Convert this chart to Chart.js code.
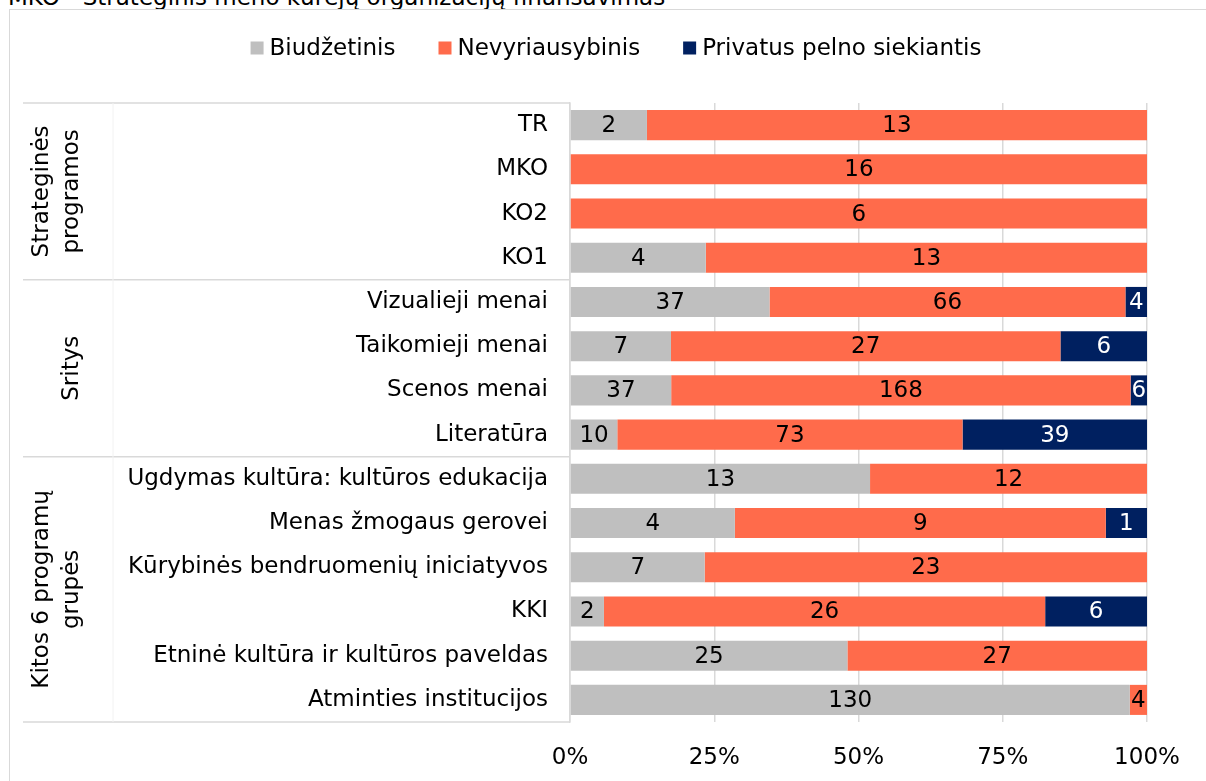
<!DOCTYPE html>
<html>
<head>
<meta charset="utf-8">
<script src="https://cdn.jsdelivr.net/npm/chart.js@4"></script>
<style>
  body { margin: 0; background: #fff; overflow: hidden; }
  #title {
    position: absolute; left: 8px; top: -14px;
    font: 23px "DejaVu Sans", sans-serif; line-height: 23px; color: #000;
    white-space: nowrap;
  }
  #frame {
    position: absolute; left: 9px; top: 9px; width: 1400px; height: 1000px;
    border: 1.5px solid #d9d9d9;
  }
  #chart { position: absolute; left: 0; top: 0; }
</style>
</head>
<body>
<div id="title">MKO - Strateginis meno kūrėjų organizacijų finansavimas</div>
<div id="frame"></div>
<canvas id="chart" width="1206" height="781"></canvas>
<script>
// programos / sritys / grupės
const categories = [
  'TR', 'MKO', 'KO2', 'KO1',
  'Vizualieji menai', 'Taikomieji menai', 'Scenos menai', 'Literatūra',
  'Ugdymas kultūra: kultūros edukacija', 'Menas žmogaus gerovei',
  'Kūrybinės bendruomenių iniciatyvos', 'KKI',
  'Etninė kultūra ir kultūros paveldas', 'Atminties institucijos'
];
const groupNames = [['Strateginės', 'programos'], ['Sritys'], ['Kitos 6 programų', 'grupės']];
const groupSizes = [4, 4, 6];

const seriesNames = ['Biudžetinis', 'Nevyriausybinis', 'Privatus pelno siekiantis'];
const biudzetinis =     [2, 0, 0, 4, 37, 7, 37, 10, 13, 4, 7, 2, 25, 130];
const nevyriausybinis = [13, 16, 6, 13, 66, 27, 168, 73, 12, 9, 23, 26, 27, 4];
const privatus =        [0, 0, 0, 0, 4, 6, 6, 39, 0, 1, 0, 6, 0, 0];
const xTicks = [0, 25, 50, 75, 100];

const colors = ['#bfbfbf', '#ff6b4b', '#002060'];
const labelColors = ['#000', '#000', '#fff'];
const FONT = '"DejaVu Sans", sans-serif';
const FS = 23;

const counts = [biudzetinis, nevyriausybinis, privatus];
const totals = categories.map((c, i) => biudzetinis[i] + nevyriausybinis[i] + privatus[i]);

const datasets = counts.map((arr, k) => ({
  label: seriesNames[k],
  data: arr.map((v, i) => v / totals[i] * 100),
  backgroundColor: colors[k],
  borderWidth: 0,
  barPercentage: 0.68,
  categoryPercentage: 1.0
}));

// numbers inside the bars
const barLabels = {
  id: 'barLabels',
  afterDatasetsDraw(chart) {
    const ctx = chart.ctx;
    ctx.save();
    ctx.font = FS + 'px ' + FONT;
    ctx.textAlign = 'center';
    ctx.textBaseline = 'middle';
    chart.data.datasets.forEach((ds, k) => {
      chart.getDatasetMeta(k).data.forEach((bar, i) => {
        const v = counts[k][i];
        if (!v) return;
        ctx.fillStyle = labelColors[k];
        ctx.fillText(String(v), (bar.x + bar.base) / 2, bar.y + 1);
      });
    });
    ctx.restore();
  }
};

// legend + group table on the left
const decorations = {
  id: 'decorations',
  afterDraw(chart) {
    const ctx = chart.ctx;
    const area = chart.chartArea;
    const y = chart.scales.y;
    ctx.save();

    // legend
    ctx.font = FS + 'px ' + FONT;
    ctx.textBaseline = 'middle';
    const box = 13, gapText = 6, gapItem = 43;
    const widths = seriesNames.map(n => box + gapText + ctx.measureText(n).width);
    const total = widths.reduce((a, b) => a + b, 0) + gapItem * (seriesNames.length - 1);
    let lx = 616 - total / 2;
    const ly = 48;
    seriesNames.forEach((n, k) => {
      ctx.fillStyle = colors[k];
      ctx.fillRect(lx, ly - box / 2, box, box);
      ctx.fillStyle = '#000';
      ctx.textAlign = 'left';
      ctx.fillText(n, lx + box + gapText, ly + 1);
      lx += widths[k] + gapItem;
    });

    // separators
    const step = (y.getPixelForValue(1) - y.getPixelForValue(0));
    const left = 23;
    ctx.strokeStyle = '#d9d9d9';
    ctx.lineWidth = 1.5;
    let start = 0;
    const bounds = [area.top];
    groupSizes.forEach(sz => {
      start += sz;
      bounds.push(area.top + step * start);
    });
    bounds.forEach(b => {
      ctx.beginPath();
      ctx.moveTo(left, b);
      ctx.lineTo(area.left, b);
      ctx.stroke();
    });
    ctx.strokeStyle = '#f2f2f2';
    ctx.lineWidth = 1;
    ctx.beginPath();
    ctx.moveTo(113, bounds[0]);
    ctx.lineTo(113, bounds[bounds.length - 1]);
    ctx.stroke();

    // rotated group names
    ctx.fillStyle = '#000';
    ctx.font = FS + 'px ' + FONT;
    ctx.textAlign = 'center';
    ctx.textBaseline = 'middle';
    groupNames.forEach((lines, g) => {
      const cy = (bounds[g] + bounds[g + 1]) / 2;
      lines.forEach((t, j) => {
        const cx = 72 - (lines.length - 1 - j) * 30;
        ctx.save();
        ctx.translate(cx, cy);
        ctx.rotate(-Math.PI / 2);
        ctx.fillText(t, 0, 0);
        ctx.restore();
      });
    });
    ctx.restore();
  }
};

new Chart(document.getElementById('chart'), {
  type: 'bar',
  data: { labels: categories, datasets: datasets },
  options: {
    indexAxis: 'y',
    responsive: false,
    animation: false,
    layout: { padding: { top: 103, right: 59, left: 0, bottom: 0 } },
    scales: {
      x: {
        stacked: true,
        min: 0,
        max: 100,
        afterBuildTicks: s => { s.ticks = xTicks.map(v => ({ value: v })); },
        afterFit: s => { s.height = 59; },
        ticks: {
          color: '#000',
          padding: 22,
          font: { family: FONT, size: FS },
          callback: v => v + '%'
        },
        grid: { color: '#d9d9d9', lineWidth: 1.5, drawTicks: false },
        border: { display: false }
      },
      y: {
        stacked: true,
        afterFit: s => { s.width = 570; },
        ticks: {
          color: '#000',
          padding: 22,
          font: { family: FONT, size: FS }
        },
        grid: { display: false, drawTicks: false },
        border: { color: '#d9d9d9', width: 1.5 }
      }
    },
    plugins: {
      legend: { display: false },
      tooltip: { enabled: false }
    }
  },
  plugins: [barLabels, decorations]
});
</script>
</body>
</html>
